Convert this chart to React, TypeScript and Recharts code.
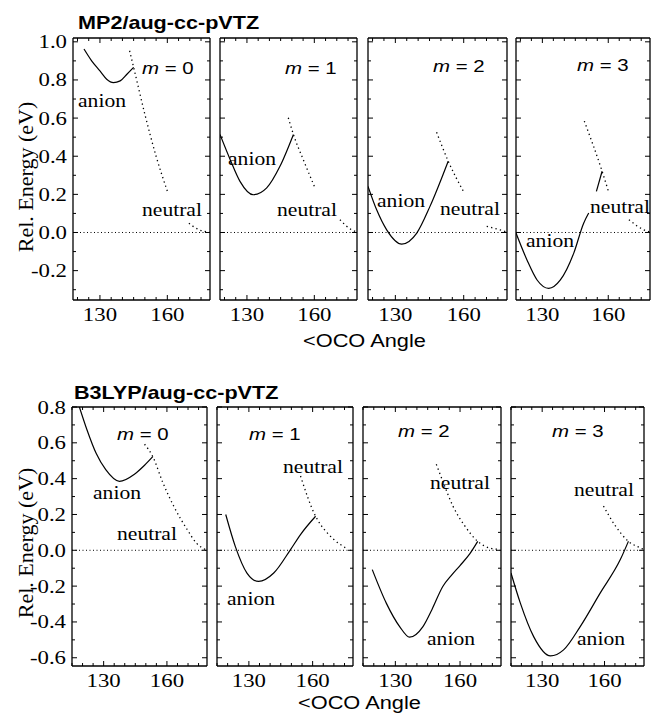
import React from 'react';
import { LineChart, Line, XAxis, YAxis, ReferenceLine } from 'recharts';

// ---------- MP2/aug-cc-pVTZ : [OCO angle (deg), relative energy (eV)] ----------
const mp2M0Anion = [[122.9, 0.962], [126.3, 0.9], [130, 0.847], [133, 0.804], [136, 0.786], [139, 0.795], [142, 0.83], [145, 0.866]];
const mp2M0NeutralUpper = [[143.2, 0.953], [145, 0.866], [150, 0.62], [155, 0.4], [160.2, 0.21]];
const mp2M0NeutralLower = [[169.6, 0.049], [174, 0.015], [178.8, 0.002]];

const mp2M1Anion = [[118, 0.514], [122.5, 0.383], [126.9, 0.268], [132.8, 0.198], [138.8, 0.234], [144.7, 0.347], [150.7, 0.514]];
const mp2M1NeutralUpper = [[148.4, 0.602], [150.7, 0.514], [155.5, 0.37], [160.3, 0.234]];
const mp2M1NeutralLower = [[171.4, 0.067], [176.6, 0.014], [178.8, 0.003]];

const mp2M2Anion = [[118, 0.242], [121.8, 0.119], [126.2, 0.014], [132.8, -0.061], [139.4, -0.003], [145.2, 0.137], [153.2, 0.374]];
const mp2M2NeutralUpper = [[148.1, 0.526], [153.2, 0.374], [160.1, 0.211]];
const mp2M2NeutralLower = [[170.1, 0.032], [175.9, 0.014], [178.8, 0.003]];

const mp2M3AnionLower = [[118, -0.003], [123, -0.144], [127.6, -0.249], [132.9, -0.293], [138.2, -0.249], [144.3, -0.108], [148.8, 0.049], [151.1, 0.102]];
const mp2M3AnionUpper = [[154.6, 0.216], [157.2, 0.321]];
const mp2M3NeutralUpper = [[149.1, 0.584], [157.2, 0.321], [160.2, 0.211]];
const mp2M3NeutralLower = [[169.4, 0.067], [176.2, 0.014], [178.8, 0.003]];

// ---------- B3LYP/aug-cc-pVTZ ----------
const b3M0Anion = [[118.5, 0.8], [122, 0.676], [126.5, 0.54], [131, 0.45], [137.5, 0.385], [144.6, 0.425], [149.4, 0.475], [153.3, 0.523]];
const b3M0Neutral = [[149.4, 0.592], [153.3, 0.523], [158, 0.38], [163.2, 0.247], [169.6, 0.116], [174, 0.04], [178.2, 0.004]];

const b3M1Anion = [[119.1, 0.2], [123.6, 0.022], [129.1, -0.127], [134.6, -0.174], [141.7, -0.127], [149.6, 0.004], [154.3, 0.088], [161.4, 0.19]];
const b3M1Neutral = [[154.3, 0.415], [161.4, 0.19], [163.7, 0.144], [166.9, 0.097], [170, 0.06], [176.3, 0.008]];

const b3M2Anion = [[119.3, -0.108], [125.8, -0.295], [132, -0.426], [136.6, -0.485], [142.8, -0.426], [147, -0.33], [152, -0.202], [156, -0.14], [160, -0.085], [164.5, -0.02], [168.2, 0.05]];
const b3M2Neutral = [[149, 0.48], [152.5, 0.37], [156.7, 0.247], [162, 0.14], [168.2, 0.05], [173.6, 0.013], [178.2, 0.005]];

const b3M3Anion = [[115, -0.127], [119.5, -0.295], [125.9, -0.482], [134, -0.59], [140.3, -0.556], [148.3, -0.426], [157.9, -0.239], [167.6, -0.052], [171.5, 0.05]];
const b3M3Neutral = [[159.5, 0.247], [165, 0.14], [171.5, 0.05], [177.3, 0.013], [178.8, 0.005]];

// ---------- axes ----------
const mp2AngleTicks = [120, 125, 130, 135, 140, 145, 150, 155, 160, 165, 170, 175];
const b3AngleTicks = [115, 120, 125, 130, 135, 140, 145, 150, 155, 160, 165, 170, 175];
const labelledAngles = [130, 160];
const mp2EnergyTicks = [-0.3, -0.2, -0.1, 0, 0.1, 0.2, 0.3, 0.4, 0.5, 0.6, 0.7, 0.8, 0.9, 1.0];
const b3EnergyTicks = [-0.6, -0.5, -0.4, -0.3, -0.2, -0.1, 0, 0.1, 0.2, 0.3, 0.4, 0.5, 0.6, 0.7, 0.8];

const SERIF = '"Liberation Serif", "Times New Roman", serif';
const SANS = '"Liberation Sans", Arial, sans-serif';
const SX = 1.2;
const TICK_FONT = 19;

type Pt = { angle: number; e: number };
const toPts = (arr: number[][]): Pt[] => arr.map(([angle, e]) => ({ angle, e }));

const isMajorE = (v: number) => Math.abs(Math.round(v * 10)) % 2 === 0;

const bottomTick = (p: any) => {
  const v = p.payload.value;
  const major = labelledAngles.includes(v);
  return (
    <g>
      <line x1={p.x} x2={p.x} y1={p.y} y2={p.y - (major ? 5 : 3)} stroke="#000" strokeWidth={1} />
      {major && (
        <text transform={`translate(${p.x},${p.y + 21}) scale(${SX},1)`} textAnchor="middle" fontFamily={SERIF} fontSize={TICK_FONT} fill="#000">
          {v}
        </text>
      )}
    </g>
  );
};

const topTick = (p: any) => {
  const v = p.payload.value;
  const major = labelledAngles.includes(v);
  return <line x1={p.x} x2={p.x} y1={p.y} y2={p.y + (major ? 5 : 3)} stroke="#000" strokeWidth={1} />;
};

const leftTick = (showLabels: boolean) => (p: any) => {
  const v = p.payload.value;
  const major = isMajorE(v);
  return (
    <g>
      <line x1={p.x} x2={p.x + (major ? 5 : 3)} y1={p.y} y2={p.y} stroke="#000" strokeWidth={1} />
      {showLabels && major && (
        <text transform={`translate(${p.x - 6},${p.y + 6.5}) scale(${SX},1)`} textAnchor="end" fontFamily={SERIF} fontSize={TICK_FONT} fill="#000">
          {v.toFixed(1)}
        </text>
      )}
    </g>
  );
};

const rightTick = (p: any) => {
  const v = p.payload.value;
  const major = isMajorE(v);
  return <line x1={p.x} x2={p.x - (major ? 5 : 3)} y1={p.y} y2={p.y} stroke="#000" strokeWidth={1} />;
};

type PanelProps = {
  left: number;
  top: number;
  width: number;
  height: number;
  xDomain: [number, number];
  xTicks: number[];
  yDomain: [number, number];
  yTicks: number[];
  showY: boolean;
  anion: number[][][];
  neutral: number[][][];
};

const Y_W = 70;
const M_TOP = 14;
const M_RIGHT = 4;
const X_H = 32;
const EDGE = 1; // thickness reserved for the frame axes without labels

const frameLine = { stroke: '#000', strokeWidth: 1.3 };

function Panel({ left, top, width, height, xDomain, xTicks, yDomain, yTicks, showY, anion, neutral }: PanelProps) {
  const yW = showY ? Y_W : EDGE;
  return (
    <div style={{ position: 'absolute', left: left - yW, top: top - M_TOP - EDGE }}>
      <LineChart
        width={yW + width + EDGE + M_RIGHT}
        height={M_TOP + EDGE + height + X_H}
        margin={{ top: M_TOP, right: M_RIGHT, left: 0, bottom: 0 }}
      >
        <XAxis
          type="number"
          dataKey="angle"
          domain={xDomain}
          ticks={xTicks}
          interval={0}
          allowDataOverflow
          height={X_H}
          tickSize={0}
          tickMargin={0}
          tickLine={false}
          axisLine={frameLine}
          tick={bottomTick}
        />
        <XAxis
          xAxisId="top"
          orientation="top"
          type="number"
          dataKey="angle"
          domain={xDomain}
          ticks={xTicks}
          interval={0}
          allowDataOverflow
          height={EDGE}
          tickSize={0}
          tickMargin={0}
          tickLine={false}
          axisLine={frameLine}
          tick={topTick}
        />
        <YAxis
          type="number"
          domain={yDomain}
          ticks={yTicks}
          interval={0}
          allowDataOverflow
          width={yW}
          tickSize={0}
          tickMargin={0}
          tickLine={false}
          axisLine={frameLine}
          tick={leftTick(showY)}
        />
        <YAxis
          yAxisId="right"
          orientation="right"
          type="number"
          domain={yDomain}
          ticks={yTicks}
          interval={0}
          allowDataOverflow
          width={EDGE}
          tickSize={0}
          tickMargin={0}
          tickLine={false}
          axisLine={frameLine}
          tick={rightTick}
        />
        <ReferenceLine y={0} stroke="#000" strokeWidth={1} strokeDasharray="1 2.5" />
        {neutral.map((seg, i) => (
          <Line
            key={`n${i}`}
            data={toPts(seg)}
            dataKey="e"
            type="monotone"
            dot={false}
            stroke="#000"
            strokeWidth={1.3}
            strokeDasharray="1.3 3.2"
            isAnimationActive={false}
          />
        ))}
        {anion.map((seg, i) => (
          <Line
            key={`a${i}`}
            data={toPts(seg)}
            dataKey="e"
            type="monotone"
            dot={false}
            stroke="#000"
            strokeWidth={1.2}
            isAnimationActive={false}
          />
        ))}
      </LineChart>
    </div>
  );
}

const MP2_X: [number, number] = [118, 179];
const MP2_Y: [number, number] = [-0.354, 1.02];
const B3_X: [number, number] = [115, 179];
const B3_Y: [number, number] = [-0.646, 0.8];

const mp2Panels = [
  { left: 73, width: 137, anion: [mp2M0Anion], neutral: [mp2M0NeutralUpper, mp2M0NeutralLower] },
  { left: 220, width: 137, anion: [mp2M1Anion], neutral: [mp2M1NeutralUpper, mp2M1NeutralLower] },
  { left: 368, width: 139, anion: [mp2M2Anion], neutral: [mp2M2NeutralUpper, mp2M2NeutralLower] },
  { left: 516, width: 134, anion: [mp2M3AnionLower, mp2M3AnionUpper], neutral: [mp2M3NeutralUpper, mp2M3NeutralLower] },
];

const b3Panels = [
  { left: 72, width: 135, anion: [b3M0Anion], neutral: [b3M0Neutral] },
  { left: 217, width: 136, anion: [b3M1Anion], neutral: [b3M1Neutral] },
  { left: 363, width: 138, anion: [b3M2Anion], neutral: [b3M2Neutral] },
  { left: 511, width: 133, anion: [b3M3Anion], neutral: [b3M3Neutral] },
];

// in-panel annotations: [text, left x, baseline y, kind]
const notes: [string, number, number, 'm' | 'w'][] = [
  ['0', 142, 74, 'm'], ['anion', 78, 107, 'w'], ['neutral', 142, 216, 'w'],
  ['1', 285, 74, 'm'], ['anion', 228, 165, 'w'], ['neutral', 277, 216, 'w'],
  ['2', 433, 72, 'm'], ['anion', 377, 207, 'w'], ['neutral', 440, 215, 'w'],
  ['3', 577, 71, 'm'], ['anion', 526, 247, 'w'], ['neutral', 590, 213, 'w'],
  ['0', 117, 440, 'm'], ['anion', 93, 499, 'w'], ['neutral', 117, 540, 'w'],
  ['1', 249, 440, 'm'], ['neutral', 283, 473, 'w'], ['anion', 227, 605, 'w'],
  ['2', 398, 437, 'm'], ['neutral', 430, 489, 'w'], ['anion', 427, 645, 'w'],
  ['3', 552, 437, 'm'], ['neutral', 574, 496, 'w'], ['anion', 577, 645, 'w'],
];

export default function App() {
  return (
    <div style={{ position: 'absolute', left: 0, top: 0, width: 652, height: 717, background: '#fff', overflow: 'hidden' }}>
      {mp2Panels.map((p, i) => (
        <Panel
          key={`mp2-${i}`}
          left={p.left}
          top={38}
          width={p.width}
          height={262}
          xDomain={MP2_X}
          xTicks={mp2AngleTicks}
          yDomain={MP2_Y}
          yTicks={mp2EnergyTicks}
          showY={i === 0}
          anion={p.anion}
          neutral={p.neutral}
        />
      ))}
      {b3Panels.map((p, i) => (
        <Panel
          key={`b3-${i}`}
          left={p.left}
          top={407}
          width={p.width}
          height={259}
          xDomain={B3_X}
          xTicks={b3AngleTicks}
          yDomain={B3_Y}
          yTicks={b3EnergyTicks}
          showY={i === 0}
          anion={p.anion}
          neutral={p.neutral}
        />
      ))}
      <svg width={652} height={717} style={{ position: 'absolute', left: 0, top: 0, pointerEvents: 'none' }}>
        <text transform={`translate(78,29) scale(1.2,1)`} fontFamily={SANS} fontWeight="bold" fontSize={18} fill="#000">
          MP2/aug-cc-pVTZ
        </text>
        <text transform={`translate(74,399) scale(1.2,1)`} fontFamily={SANS} fontWeight="bold" fontSize={18} fill="#000">
          B3LYP/aug-cc-pVTZ
        </text>
        <text transform={`translate(303,347) scale(1.21,1)`} fontFamily={SANS} fontSize={18} fill="#000">
          {'<OCO Angle'}
        </text>
        <text transform={`translate(298,709) scale(1.21,1)`} fontFamily={SANS} fontSize={18} fill="#000">
          {'<OCO Angle'}
        </text>
        <text transform="translate(33,177) rotate(-90)" textAnchor="middle" fontFamily={SERIF} fontSize={22} fill="#000">
          Rel. Energy (eV)
        </text>
        <text transform="translate(33,543) rotate(-90)" textAnchor="middle" fontFamily={SERIF} fontSize={22} fill="#000">
          Rel. Energy (eV)
        </text>
        {notes.map(([t, x, y, kind], i) =>
          kind === 'm' ? (
            <text key={i} transform={`translate(${x},${y}) scale(1.2,1)`} fontFamily={SANS} fontSize={17} fill="#000">
              <tspan fontStyle="italic">m</tspan>
              {` = ${t}`}
            </text>
          ) : (
            <text key={i} transform={`translate(${x},${y}) scale(${SX},1)`} fontFamily={SERIF} fontSize={18} fill="#000">
              {t}
            </text>
          )
        )}
      </svg>
    </div>
  );
}
